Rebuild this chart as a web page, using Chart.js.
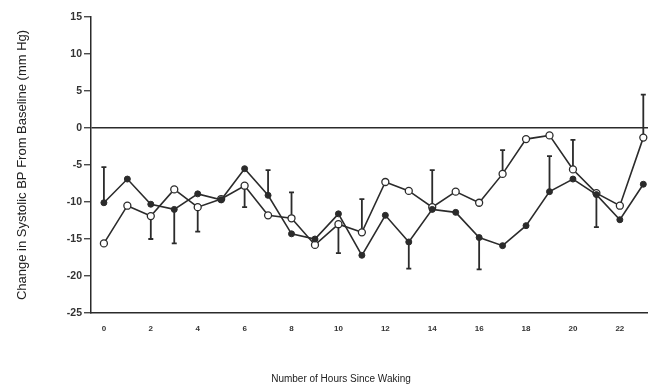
<!DOCTYPE html>
<html>
<head>
<meta charset="utf-8">
<script src="https://cdn.jsdelivr.net/npm/chart.js@4.4.1/dist/chart.umd.min.js"></script>
<style>
  html, body { margin: 0; padding: 0; background: #fff; overflow: hidden; }
  #wrap { width: 648px; height: 388px; }
</style>
</head>
<body>
<div id="wrap"><canvas id="bpChart"></canvas></div>
<script>
// hours since waking
let hours = [0,1,2,3,4,5,6,7,8,9,10,11,12,13,14,15,16,17,18,19,20,21,22,23];

// filled dots
let filledValues = [-10.1,-6.9,-10.3,-11.0,-8.9,-9.7,-5.5,-9.1,-14.3,-15.0,-11.6,-17.2,
                    -11.8,-15.4,-11.0,-11.4,-14.8,-15.9,-13.2,-8.6,-6.9,-9.0,-12.4,-7.6];
// open circles
let openValues = [-15.6,-10.5,-11.9,-8.3,-10.7,-9.6,-7.8,-11.8,-12.2,-15.8,-13.0,-14.1,
                  -7.3,-8.5,-10.7,-8.6,-10.1,-6.2,-1.5,-1.0,-5.6,-8.8,-10.5,-1.3];

// one-sided error bars: value where the bar ends (null = no bar)
let filledErrEnd = [-5.3,null,null,-15.6,null,null,null,-5.7,null,null,null,null,
                    null,-19.0,-5.7,null,-19.1,null,null,-3.8,null,-13.4,null,null];
let openErrEnd = [null,null,-15.0,null,-14.0,null,-10.7,null,-8.7,null,-16.9,-9.6,
                  null,null,null,null,null,-3.0,null,null,-1.6,null,null,4.5];

let xTickLabels = [0,2,4,6,8,10,12,14,16,18,20,22];
let yTickLabels = [15,10,5,0,-5,-10,-15,-20,-25];

let ink = '#2b2b2b';

function toPoints(values) {
    return values.map((v, i) => ({ x: hours[i], y: v }));
}

let errorBars = {
    id: 'errorBars',
    beforeDatasetsDraw(chart) {
        let ctx = chart.ctx;
        let xs = chart.scales.x;
        let ys = chart.scales.y;
        ctx.save();
        ctx.strokeStyle = ink;
        ctx.lineWidth = 1.8;
        chart.data.datasets.forEach((ds) => {
            if (!ds.errEnd) return;
            ds.errEnd.forEach((end, i) => {
                if (end === null) return;
                let px = xs.getPixelForValue(hours[i]);
                let y0 = ys.getPixelForValue(ds.data[i].y);
                let y1 = ys.getPixelForValue(end);
                ctx.beginPath();
                ctx.moveTo(px, y0);
                ctx.lineTo(px, y1);
                ctx.moveTo(px - 2.5, y1);
                ctx.lineTo(px + 2.5, y1);
                ctx.stroke();
            });
        });
        ctx.restore();
    }
};

new Chart(document.getElementById('bpChart').getContext('2d'), {
    type: 'line',
    data: {
        datasets: [
            {
                label: 'filled',
                data: toPoints(filledValues),
                errEnd: filledErrEnd,
                borderColor: ink,
                borderWidth: 1.6,
                pointRadius: 3,
                pointBackgroundColor: ink,
                pointBorderColor: ink,
                pointBorderWidth: 1,
                tension: 0
            },
            {
                label: 'open',
                data: toPoints(openValues),
                errEnd: openErrEnd,
                borderColor: ink,
                borderWidth: 1.6,
                pointRadius: 3.5,
                pointBackgroundColor: '#fff',
                pointBorderColor: ink,
                pointBorderWidth: 1.3,
                tension: 0
            }
        ]
    },
    options: {
        responsive: true,
        maintainAspectRatio: false,
        animation: false,
        // left padding shifts the bottom caption's centre; y axis width makes up the rest
        layout: { autoPadding: false, padding: { top: 17, right: 0, left: 34, bottom: 0 } },
        plugins: {
            legend: { display: false },
            tooltip: { enabled: false },
            title: {
                display: true,
                position: 'bottom',
                text: 'Number of Hours Since Waking',
                color: '#222',
                font: { family: 'Liberation Sans', size: 10, weight: 'normal' },
                padding: { top: 0, bottom: 3 }
            }
        },
        scales: {
            x: {
                type: 'linear',
                min: -0.55,
                max: 23.2,
                afterFit: (s) => { s.height = 60; s.paddingRight = 0; s.paddingLeft = 0; },
                afterBuildTicks: (s) => { s.ticks = xTickLabels.map(v => ({ value: v })); },
                border: { display: true, color: ink, width: 1.5 },
                grid: { drawOnChartArea: false, drawTicks: false },
                ticks: {
                    color: '#333',
                    padding: 11,
                    maxRotation: 0,
                    autoSkip: false,
                    font: { family: 'Liberation Sans', size: 8, weight: 'bold' }
                }
            },
            y: {
                min: -25,
                max: 15,
                afterFit: (s) => { s.width = 57; },
                afterBuildTicks: (s) => { s.ticks = yTickLabels.map(v => ({ value: v })); },
                border: { display: true, color: ink, width: 1.5 },
                grid: {
                    drawOnChartArea: true,
                    drawTicks: true,
                    tickLength: 7,
                    tickColor: ink,
                    tickWidth: 1.2,
                    color: (c) => (c.tick && c.tick.value === 0 ? ink : 'rgba(0,0,0,0)'),
                    lineWidth: 1.5
                },
                ticks: {
                    color: '#333',
                    padding: 2,
                    font: { family: 'Liberation Sans', size: 10.5, weight: 'bold' }
                },
                title: {
                    display: true,
                    text: 'Change in Systolic BP From Baseline (mm Hg)',
                    color: '#222',
                    font: { family: 'Liberation Sans', size: 13, weight: 'normal' },
                    padding: { top: -19, bottom: 0 }
                }
            }
        }
    },
    plugins: [errorBars]
});
</script>
</body>
</html>
